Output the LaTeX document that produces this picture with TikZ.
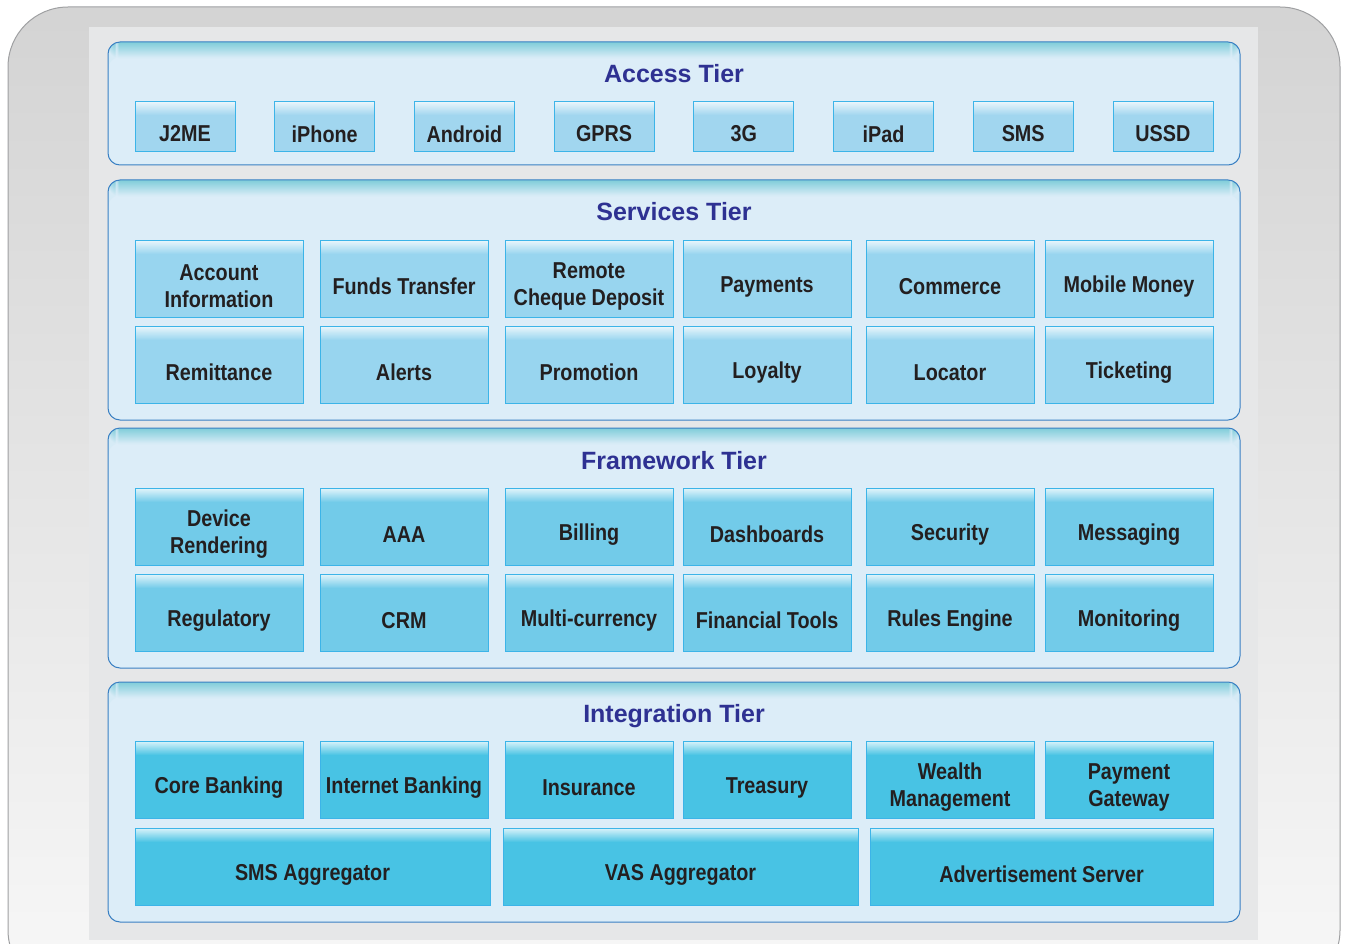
\documentclass[tikz,border=0pt]{standalone}
\usepackage{fontspec}
\setmainfont{Liberation Sans}
\newfontfamily\cellfont{Liberation Sans}[FakeStretch=0.86]

\definecolor{panelgray}{HTML}{E6E7E8}
\definecolor{framegray}{HTML}{9FA0A2}
\definecolor{tierfill}{HTML}{DCEDF8}
\definecolor{tierband}{HTML}{7FCDD9}
\definecolor{tierline}{HTML}{3A80C3}
\definecolor{titleblue}{HTML}{2E3192}
\definecolor{accessfill}{HTML}{A1D6EF}
\definecolor{servicefill}{HTML}{98D5EF}
\definecolor{frameworkfill}{HTML}{72CBE9}
\definecolor{integrationfill}{HTML}{48C3E4}
\definecolor{cellline}{HTML}{3CB4E8}
\definecolor{cellink}{HTML}{231F20}

% the glossy top bands are built from thin strips
\tikzset{
  tier/.style={draw=tierline, line width=1pt, fill=tierfill, rounded corners=12pt,
    minimum width=1132pt, inner sep=0pt,
    path picture={
      \foreach \k [evaluate=\k as \p using {int(100-\k*100/16)}] in {0,...,15}
        \fill[tierband!\p!tierfill]
          ([yshift={-\k*1pt}]path picture bounding box.north west)
          rectangle ([yshift={-(\k+1.3)*1pt}]path picture bounding box.north east);}},
  tiertitle/.style={text=titleblue, font=\fontsize{25}{29}\selectfont\bfseries},
  cellbox/.style={draw=cellline, line width=0.8pt, fill=#1, inner sep=0pt,
    path picture={
      \foreach \k [evaluate=\k as \p using {int(20+\k*80/14)}] in {0,...,14}
        \fill[#1!\p!white]
          ([yshift={-\k*1pt}]path picture bounding box.north west)
          rectangle ([yshift={-(\k+1.3)*1pt}]path picture bounding box.north east);}},
  celltext/.style={text=cellink, font=\cellfont\bfseries\fontsize{23}{27}\selectfont,
    align=center, yshift=-8pt},
}

\begin{document}
\begin{tikzpicture}[x=1pt,y=-1pt]
\useasboundingbox (0,0) rectangle (1346,944);

% outer frame and panel
\draw[draw=framegray, line width=1pt, top color=black!17, bottom color=black!3, rounded corners=60pt]
  (8,7) rectangle (1340,990);
\fill[panelgray] (89,27) rectangle (1258,940);

% tiers
\node[tier, minimum height=123pt] (access) at (674,103.5) {};
\node[tier, minimum height=240pt] (services) at (674,300) {};
\node[tier, minimum height=240pt] (framework) at (674,548) {};
\node[tier, minimum height=240pt] (integration) at (674,802) {};

\node[tiertitle] (accesstitle) at (674,74) {Access Tier};
\node[tiertitle] (servicestitle) at (674,212) {Services Tier};
\node[tiertitle] (frameworktitle) at (674,461) {Framework Tier};
\node[tiertitle] (integrationtitle) at (674,716) {Integration Tier};

% access tier cells
\foreach \txt [count=\i from 0] in {J2ME,iPhone,Android,GPRS,3G,iPad,SMS,USSD}
  \node[cellbox=accessfill, minimum width=100pt, minimum height=50pt,
    label={[celltext]center:\txt}] (acc\i) at (185+139.7*\i,126) {};

% services tier cells
\foreach \x/\id/\txt in {219/acct/{Account\\Information}, 404/funds/{Funds Transfer},
    589/cheque/{Remote\\Cheque Deposit}, 767/payments/Payments, 950/commerce/Commerce,
    1129/mmoney/{Mobile Money}}
  \node[cellbox=servicefill, minimum width=168pt, minimum height=77pt,
    label={[celltext]center:\txt}] (\id) at (\x,278.5) {};
\foreach \x/\id/\txt in {219/remit/Remittance, 404/alerts/Alerts, 589/promo/Promotion,
    767/loyalty/Loyalty, 950/locator/Locator, 1129/ticket/Ticketing}
  \node[cellbox=servicefill, minimum width=168pt, minimum height=77pt,
    label={[celltext]center:\txt}] (\id) at (\x,364.5) {};

% framework tier cells
\foreach \x/\id/\txt in {219/render/{Device\\Rendering}, 404/aaa/AAA, 589/billing/Billing,
    767/dash/Dashboards, 950/security/Security, 1129/msg/Messaging}
  \node[cellbox=frameworkfill, minimum width=168pt, minimum height=77pt,
    label={[celltext]center:\txt}] (\id) at (\x,526.5) {};
\foreach \x/\id/\txt in {219/reg/Regulatory, 404/crm/CRM, 589/multicur/Multi-currency,
    767/fintools/{Financial Tools}, 950/rules/{Rules Engine}, 1129/monitor/Monitoring}
  \node[cellbox=frameworkfill, minimum width=168pt, minimum height=77pt,
    label={[celltext]center:\txt}] (\id) at (\x,612.5) {};

% integration tier cells
\foreach \x/\id/\txt in {219/core/{Core Banking}, 404/inet/{Internet Banking},
    589/insur/Insurance, 767/treasury/Treasury, 950/wealth/{Wealth\\Management},
    1129/gateway/{Payment\\Gateway}}
  \node[cellbox=integrationfill, minimum width=168pt, minimum height=77pt,
    label={[celltext]center:\txt}] (\id) at (\x,779.5) {};
\node[cellbox=integrationfill, minimum width=355pt, minimum height=77pt,
  label={[celltext]center:SMS Aggregator}] (smsagg) at (312.5,866.5) {};
\node[cellbox=integrationfill, minimum width=355pt, minimum height=77pt,
  label={[celltext]center:VAS Aggregator}] (vasagg) at (680.5,866.5) {};
\node[cellbox=integrationfill, minimum width=343pt, minimum height=77pt,
  label={[celltext]center:Advertisement Server}] (adserver) at (1041.5,866.5) {};

\end{tikzpicture}
\end{document}
